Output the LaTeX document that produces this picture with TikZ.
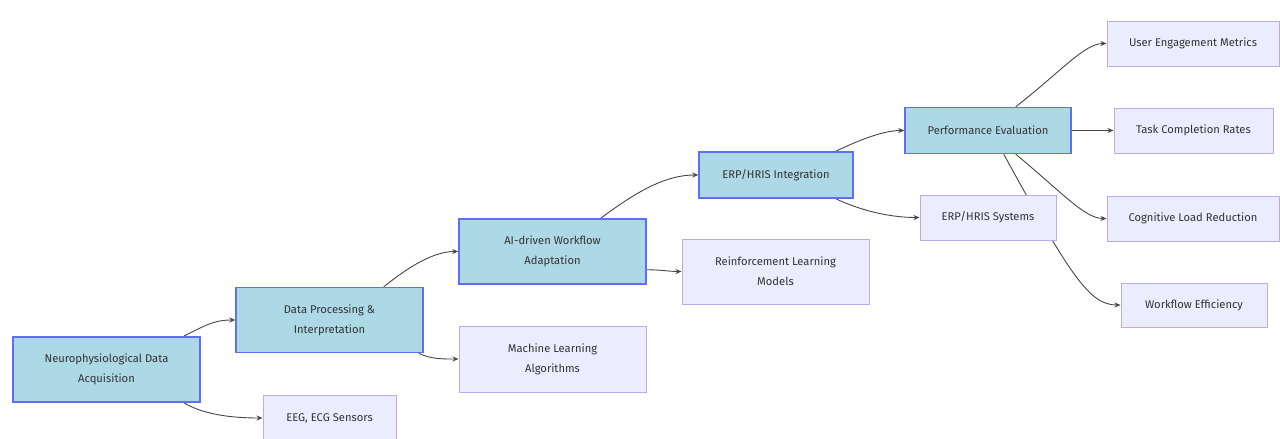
\documentclass[tikz,border=0pt]{standalone}
\usepackage{fontspec}
\setmainfont{Fira Sans}
\usetikzlibrary{arrows.meta}
\definecolor{mainfill}{RGB}{173,216,230}
\definecolor{mainborder}{RGB}{96,110,245}
\definecolor{leaffill}{RGB}{236,236,255}
\definecolor{leafborder}{RGB}{190,170,235}
\definecolor{edgecol}{RGB}{70,70,70}
\definecolor{txt}{RGB}{51,51,51}
\pgfdeclarelayer{bg}
\pgfsetlayers{bg,main}
\begin{document}
\begin{tikzpicture}[x=1pt,y=-1pt,
  box/.style={rectangle,inner sep=0pt,align=center,text=txt,
    font=\fontsize{11.2}{20}\selectfont},
  mainbox/.style={box,fill=mainfill,draw=mainborder,line width=1.5pt},
  leafbox/.style={box,fill=leaffill,draw=leafborder,line width=1pt},
  edge/.style={draw=edgecol,line width=0.9pt,-{Stealth[length=6pt,width=5pt]}}]
\useasboundingbox (0,0) rectangle (1280,439);
% main nodes
\node[mainbox,minimum width=187pt,minimum height=65pt] (N1) at (106.5,369.5) {Neurophysiological Data\\Acquisition};
\node[mainbox,minimum width=187pt,minimum height=65pt] (N2) at (329.5,320) {Data Processing \&\\Interpretation};
\node[mainbox,minimum width=187pt,minimum height=65pt] (N3) at (552.5,251.5) {AI-driven Workflow\\Adaptation};
\node[mainbox,minimum width=154pt,minimum height=46pt] (N4) at (776,175) {ERP/HRIS Integration};
\node[mainbox,minimum width=166pt,minimum height=46pt] (N5) at (988,130.5) {Performance Evaluation};
% leaf nodes
\node[leafbox,minimum width=133pt,minimum height=46pt] (EEG) at (329.5,418) {EEG, ECG Sensors};
\node[leafbox,minimum width=187pt,minimum height=66pt] (ML) at (552.5,359) {Machine Learning\\Algorithms};
\node[leafbox,minimum width=187pt,minimum height=65pt] (RL) at (775.5,271.5) {Reinforcement Learning\\Models};
\node[leafbox,minimum width=136pt,minimum height=45pt] (ERPS) at (988,217.5) {ERP/HRIS Systems};
\node[leafbox,minimum width=159pt,minimum height=45pt] (TCR) at (1193.5,130.5) {Task Completion Rates};
\node[leafbox,minimum width=172pt,minimum height=45pt] (UEM) at (1193,43.5) {User Engagement Metrics};
\node[leafbox,minimum width=172pt,minimum height=45pt] (CLR) at (1193,218.5) {Cognitive Load Reduction};
\node[leafbox,minimum width=146pt,minimum height=44pt] (WE) at (1194,305) {Workflow Efficiency};
% edges
\begin{pgfonlayer}{bg}
\draw[edge] ([xshift=-17pt]N1.north east) .. controls +(20,-10) and +(-22,0) .. (N2.west);
\draw[edge] ([xshift=-17pt]N1.south east) .. controls +(20,12) and +(-30,0) .. (EEG.west);
\draw[edge] ([xshift=-40pt]N2.north east) .. controls +(25,-20) and +(-25,0) .. (N3.west);
\draw[edge] ([xshift=-5pt]N2.south east) .. controls +(12,6) and +(-15,0) .. (ML.west);
\draw[edge] ([xshift=-46pt]N3.north east) .. controls +(40,-30) and +(-30,0) .. (N4.west);
\draw[edge] ([yshift=15pt]N3.south east) .. controls +(14,0) and +(-12,0) .. (RL.west);
\draw[edge] ([xshift=-18pt]N4.north east) .. controls +(25,-12) and +(-20,0) .. (N5.west);
\draw[edge] ([xshift=-18pt]N4.south east) .. controls +(30,14) and +(-25,0) .. (ERPS.west);
\draw[edge] ([xshift=-56pt]N5.north east) .. controls +(45,-35) and +(-22,0) .. (UEM.west);
\draw[edge] (N5.east) -- (TCR.west);
\draw[edge] ([xshift=-56pt]N5.south east) .. controls +(45,37) and +(-22,0) .. (CLR.west);
\draw[edge] ([xshift=-68pt]N5.south east) .. controls +(67,122) and +(-31,0) .. (WE.west);
\end{pgfonlayer}
\end{tikzpicture}
\end{document}
